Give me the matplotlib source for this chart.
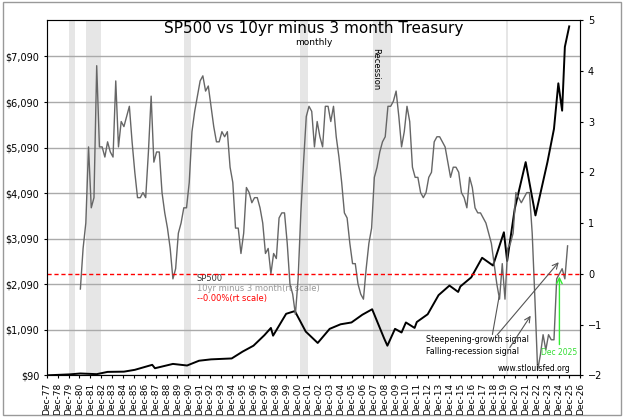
import numpy as np
import matplotlib
matplotlib.use('Agg')
import matplotlib.pyplot as plt

# S&P 500
sp_t = [1978.0, 1980.0, 1981.0, 1982.5, 1983.5, 1985.0, 1986.0, 1987.6, 1987.85, 1989.5, 1990.8,
        1991.9, 1993.0, 1994.9, 1995.9, 1996.9, 1997.9, 1998.5, 1998.7, 1999.9, 2000.7, 2001.7,
        2002.8, 2003.9, 2004.9, 2005.9, 2006.9, 2007.8, 2008.9, 2009.2, 2009.9, 2010.5, 2010.9,
        2011.7, 2011.9, 2012.9, 2013.9, 2014.9, 2015.7, 2015.9, 2016.9, 2017.9, 2018.9, 2019.9,
        2020.2, 2020.9, 2021.9, 2022.8, 2023.9, 2024.5, 2024.9, 2025.25, 2025.5, 2025.9]
sp_v = [90, 110, 130, 115, 165, 170, 210, 320, 245, 340, 305,
        410, 440, 460, 610, 740, 970, 1130, 960, 1440, 1500, 1050,
        800, 1110, 1210, 1250, 1420, 1540, 900, 740, 1110, 1030, 1250,
        1130, 1260, 1430, 1850, 2060, 1920, 2040, 2240, 2670, 2500, 3230,
        2600, 3750, 4770, 3600, 4770, 5500, 6500, 5900, 7300, 7750]

# 10yr minus 3 month spread, quarterly from 1981
spread = [-0.3, 0.5, 1.0, 2.5, 1.3, 1.5, 4.1, 2.5, 2.5, 2.3, 2.6, 2.4, 2.3, 3.8, 2.5, 3.0,
          2.9, 3.1, 3.3, 2.6, 2.0, 1.5, 1.5, 1.6, 1.5, 2.4, 3.5, 2.2, 2.4, 2.4, 1.6, 1.2,
          0.9, 0.5, -0.1, 0.1, 0.8, 1.0, 1.3, 1.3, 1.8, 2.8, 3.2, 3.5, 3.8, 3.9, 3.6, 3.7,
          3.3, 2.9, 2.6, 2.6, 2.8, 2.7, 2.8, 2.1, 1.8, 0.9, 0.9, 0.4, 0.8, 1.7, 1.6, 1.4,
          1.5, 1.5, 1.3, 1.0, 0.4, 0.5, 0.0, 0.4, 0.3, 1.1, 1.2, 1.2, 0.6, -0.2, -0.4, -0.8,
          -0.1, 1.2, 2.2, 3.1, 3.3, 3.2, 2.5, 3.0, 2.7, 2.5, 3.3, 3.3, 3.0, 3.3, 2.7, 2.3,
          1.8, 1.2, 1.1, 0.6, 0.2, 0.2, -0.2, -0.4, -0.5, 0.1, 0.6, 0.9, 1.9, 2.1, 2.4, 2.6,
          2.7, 3.3, 3.3, 3.4, 3.6, 3.1, 2.5, 2.8, 3.3, 3.0, 2.1, 1.9, 1.9, 1.6, 1.5, 1.6,
          1.9, 2.0, 2.6, 2.7, 2.7, 2.6, 2.5, 2.2, 1.9, 2.1, 2.1, 2.0, 1.6, 1.5, 1.3, 1.9,
          1.7, 1.3, 1.2, 1.2, 1.1, 1.0, 0.8, 0.6, 0.2, -0.2, -0.5, 0.2, -0.5, 0.5, 0.6, 0.8,
          1.6, 1.5, 1.4, 1.5, 1.6, 1.6, 0.8, -0.5, -1.9, -1.6, -1.2, -1.5, -1.2, -1.3, -1.3, -0.1,
          0.0, 0.1, -0.1, 0.55]
spread_t = 1981.0 + np.arange(len(spread)) * 0.25

recessions = [(1980.0, 1980.5), (1981.5, 1982.9), (1990.5, 1991.2), (2001.2, 2001.9),
              (2007.9, 2009.5), (2020.1, 2020.3)]

years = list(range(1977, 2027))
tick_labels = [f"Dec-{y % 100:02d}" for y in years]

fig = plt.figure(figsize=(6.24, 4.17), dpi=100)
fig.patches.append(plt.Rectangle((0.005, 0.005), 0.99, 0.99, transform=fig.transFigure,
                                 fill=False, edgecolor='#999999', lw=1))
ax = fig.add_axes([0.075, 0.10, 0.855, 0.852])
ax2 = ax.twinx()

for a, b in recessions:
    ax.axvspan(a, b, color='#e6e6e6', lw=0, zorder=0)

ax.set_xlim(1977.92, 2026.92)
ax.set_ylim(90, 7890)
ax.set_yticks([90, 1090, 2090, 3090, 4090, 5090, 6090, 7090])
ax.set_yticklabels(['$90', '$1,090', '$2,090', '$3,090', '$4,090', '$5,090', '$6,090', '$7,090'],
                   fontsize=7)
ax.grid(axis='y', color='#aaaaaa', lw=1)
ax.set_axisbelow(True)
ax.set_xticks([y + 11 / 12 for y in years])
ax.set_xticklabels(tick_labels, rotation=90, fontsize=6.5)
ax.tick_params(length=2)
ax.plot(sp_t, sp_v, color='black', lw=1.4, zorder=3)

ax2.set_ylim(-2, 5)
ax2.set_yticks(range(-2, 6))
ax2.tick_params(labelsize=7, length=2)
ax2.plot(spread_t, spread, color='#666666', lw=1.0, zorder=2)
ax2.axhline(0, color='red', ls=(0, (3, 2)), lw=1)

for s in ax.spines.values():
    s.set_color('#888888')

ax.set_title('SP500 vs 10yr minus 3 month Treasury', fontsize=11, y=0.94)
ax.text(0.5, 0.93, 'monthly', transform=ax.transAxes, ha='center', fontsize=6.5)
ax2.text(2008.1, 4.45, 'Recession', rotation=270, fontsize=6, va='top', ha='center')

ax.text(1991.7, 2220, 'SP500', fontsize=6, color='#333333', va='center')
ax.text(1991.7, 2000, '10yr minus 3 month(rt scale)', fontsize=6, color='#999999', va='center')
ax.text(1991.7, 1780, '--0.00%(rt scale)', fontsize=6, color='red', va='center')

ax2.text(2012.7, -1.41, 'Steepening-growth signal\nFalling-recession signal', fontsize=5.8,
         linespacing=1.5, va='center')
ax2.annotate('', xy=(2019.5, -0.4), xytext=(2018.8, -1.25),
             arrowprops=dict(arrowstyle='-', color='#555555', lw=0.8))
ax2.annotate('', xy=(2025.1, 0.27), xytext=(2019.1, -1.25),
             arrowprops=dict(arrowstyle='->', color='#555555', lw=0.8))
ax2.annotate('', xy=(2022.5, -0.78), xytext=(2020.3, -1.5),
             arrowprops=dict(arrowstyle='->', color='#555555', lw=0.8))
ax2.text(2026.0, -1.86, 'www.stlouisfed.org', fontsize=5.5, ha='right', va='center')
ax2.text(2025.0, -1.55, 'Dec 2025', fontsize=5.5, color='#33dd33', ha='center', va='center')
ax2.annotate('', xy=(2025.0, 0.0), xytext=(2025.0, -1.45),
             arrowprops=dict(arrowstyle='->', color='#33ee33', lw=1))

fig.savefig('out.png', dpi=100)
